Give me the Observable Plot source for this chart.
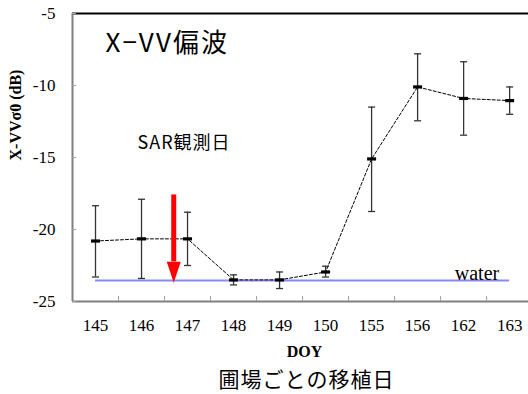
<!DOCTYPE html>
<html>
<head>
<meta charset="utf-8">
<script src="https://cdn.jsdelivr.net/npm/d3@7"></script>
<script src="https://cdn.jsdelivr.net/npm/@observablehq/plot@0.6"></script>
<style>
  html, body { margin: 0; padding: 0; background: white; }
</style>
</head>
<body>
<div id="chart"></div>
<script>
// Categories (DOY of transplanting per field)
const doyLabels = ["145", "146", "147", "148", "149", "150", "155", "156", "162", "163"];
// Mean X-VV sigma0 (dB)
const meanValues = [-20.8, -20.65, -20.65, -23.5, -23.5, -22.95, -15.1, -10.1, -10.9, -11.05];
// Error bar upper / lower ends (dB)
const errHigh = [-18.35, -17.9, -18.8, -23.15, -22.95, -22.55, -11.5, -7.8, -8.35, -10.1];
const errLow = [-23.3, -23.4, -22.5, -23.85, -24.1, -23.3, -18.75, -12.45, -13.45, -12.0];
// Water reference level (dB)
const waterLevel = -23.55;
// SAR observation day arrow (position between categories 146 and 147) and its span
const sarPosition = [1.7];
const sarArrowTop = [-17.6];
const sarArrowTip = [-23.7];
const yTicks = [-25, -20, -15, -10, -5];

const rows = doyLabels.map((d, i) => ({i, label: d, mean: meanValues[i], hi: errHigh[i], lo: errLow[i]}));
const bandEdges = d3.range(0.5, 9.5, 1);
const arrow = sarPosition.map((x, k) => ({x, top: sarArrowTop[k], tip: sarArrowTip[k]}));

const serif = "'Liberation Serif', 'Times New Roman', serif";
const jp = "'Noto Sans CJK JP', 'Noto Sans', sans-serif";

const markerSymbol = {draw(ctx) { ctx.rect(-4.5, -1.6, 9, 3.2); }};
const capSymbol = {draw(ctx) { ctx.moveTo(-3.5, 0); ctx.lineTo(3.5, 0); }};
const headSymbol = {draw(ctx) { ctx.moveTo(-7, -21); ctx.lineTo(7, -21); ctx.lineTo(0, 0); ctx.closePath(); }};

const chart = Plot.plot({
  width: 528,
  height: 394,
  marginLeft: 72,
  marginRight: 0,
  marginTop: 13,
  marginBottom: 93,
  style: {background: "white", overflow: "visible"},
  x: {type: "linear", domain: [-0.5, 9.41], axis: null},
  y: {domain: [-25, -5], axis: null},
  marks: [
    // frame lines
    Plot.ruleY([-5], {stroke: "black", strokeWidth: 2}),
    Plot.ruleX([-0.5], {stroke: "#808080", strokeWidth: 2}),
    Plot.ruleY([-25], {stroke: "#808080", strokeWidth: 2}),
    // y axis ticks (inward) and labels
    Plot.axisY({ticks: yTicks, tickSize: 4, dx: 4, text: null, stroke: "#a0a0a0"}),
    Plot.axisY({ticks: yTicks, tickSize: 0, tickPadding: 17, tickFormat: d => String(d), fontFamily: serif, fontSize: 17, fill: "black", label: null}),
    // x band edge ticks (inward) and category labels
    Plot.axisX({ticks: bandEdges, tickSize: 5, dy: -5, text: null, stroke: "#a0a0a0"}),
    Plot.axisX({ticks: d3.range(doyLabels.length), tickSize: 0, tickPadding: 17, tickFormat: i => doyLabels[i], fontFamily: serif, fontSize: 17, fill: "black", label: null}),
    // water line
    Plot.ruleY([waterLevel], {x1: 0, x2: doyLabels.length - 1, stroke: "#8a8af5", strokeWidth: 2}),
    Plot.text(["water"], {x: 8.29, y: waterLevel, lineAnchor: "bottom", dy: -1, fontFamily: serif, fontSize: 20, fill: "black"}),
    // dashed connecting line
    Plot.line(rows, {x: "i", y: "mean", stroke: "black", strokeWidth: 1, strokeDasharray: "3,2"}),
    // error bars
    Plot.ruleX(rows, {x: "i", y1: "lo", y2: "hi", stroke: "#333", strokeWidth: 1.3}),
    Plot.dot(rows, {x: "i", y: "hi", symbol: capSymbol, stroke: "#333", strokeWidth: 1.3, fill: "none"}),
    Plot.dot(rows, {x: "i", y: "lo", symbol: capSymbol, stroke: "#333", strokeWidth: 1.3, fill: "none"}),
    // mean markers
    Plot.dot(rows, {x: "i", y: "mean", symbol: markerSymbol, fill: "black", stroke: "none"}),
    // SAR observation arrow
    Plot.ruleX(arrow, {x: "x", y1: "top", y2: d => d.tip + 1.45, stroke: "#ff0000", strokeWidth: 5}),
    Plot.dot(arrow, {x: "x", y: "tip", symbol: headSymbol, fill: "#ff0000", stroke: "none"}),
    // texts
    Plot.text(["X−VV偏波"], {frameAnchor: "top-left", textAnchor: "start", lineAnchor: "middle", dx: 33, dy: 30, fontFamily: jp, fontSize: 26, fill: "black"}),
    Plot.text(["SAR観測日"], {frameAnchor: "top-left", textAnchor: "start", lineAnchor: "middle", dx: 65, dy: 130, fontFamily: jp, fontSize: 18, fill: "black"}),
    Plot.text(["X-VVσ0 (dB)"], {frameAnchor: "left", rotate: -90, dx: -57, dy: 3, fontFamily: serif, fontSize: 16, fontWeight: "bold", fill: "black"}),
    Plot.text(["DOY"], {frameAnchor: "bottom", lineAnchor: "middle", dx: 4, dy: 50, fontFamily: serif, fontSize: 16, fontWeight: "bold", fill: "black"}),
    Plot.text(["圃場ごとの移植日"], {frameAnchor: "bottom", lineAnchor: "middle", dx: 6, dy: 79, fontFamily: jp, fontSize: 21, fill: "black"})
  ]
});
// letter spacing for the Japanese annotations
const spacing = {"X−VV偏波": "2px", "SAR観測日": "1px", "圃場ごとの移植日": "1px"};
d3.select(chart).selectAll("text").each(function() {
  const t = this.textContent;
  if (spacing[t]) this.style.letterSpacing = spacing[t];
});
document.getElementById("chart").appendChild(chart);
</script>
</body>
</html>
